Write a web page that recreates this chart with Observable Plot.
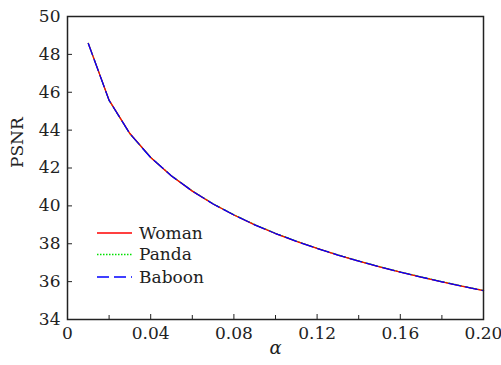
<!DOCTYPE html>
<html>
<head>
<meta charset="utf-8">
<script src="https://cdn.jsdelivr.net/npm/d3@7"></script>
<script src="https://cdn.jsdelivr.net/npm/@observablehq/plot@0.6"></script>
<style>
  html, body { margin: 0; padding: 0; background: #fff; }
  #wrap { position: relative; width: 501px; height: 365px; }
  #legend { position: absolute; left: 0; top: 0; pointer-events: none; }
</style>
</head>
<body>
<div id="wrap"></div>
<script>
// ---- data ----
const alpha  = [0.01,0.02,0.03,0.04,0.05,0.06,0.07,0.08,0.09,0.10,0.11,0.12,0.13,0.14,0.15,0.16,0.17,0.18,0.19,0.20];
const woman  = [48.58,45.58,43.82,42.56,41.58,40.78,40.10,39.52,39.00,38.54,38.13,37.75,37.40,37.08,36.78,36.50,36.24,35.99,35.75,35.52];
const panda  = [48.58,45.57,43.81,42.56,41.59,40.79,40.11,39.53,39.01,38.55,38.14,37.76,37.41,37.09,36.79,36.51,36.25,36.00,35.76,35.53];
const baboon = [48.57,45.57,43.81,42.55,41.58,40.78,40.10,39.52,39.00,38.54,38.13,37.75,37.40,37.08,36.78,36.50,36.24,35.99,35.75,35.52];
const seriesNames = ["Woman", "Panda", "Baboon"];
const xTicks = [0, 0.04, 0.08, 0.12, 0.16, 0.20];
const xTickLabels = ["0", "0.04", "0.08", "0.12", "0.16", "0.20"];
const xMinorTicks = [0.02, 0.06, 0.10, 0.14, 0.18];
const yTicks = [34, 36, 38, 40, 42, 44, 46, 48, 50];
const xLabel = "α";
const yLabel = "PSNR";

// ---- styles ----
const colors = ["#ff0000", "#00e000", "#0000ff"];
const dashes = [null, "1.5,1.5", "12,5"];
const FONT = "'DejaVu Serif', 'Liberation Serif', serif";
const FS = 17;

const seriesValues = [woman, panda, baboon];
const drawOrder = [1, 0, 2]; // panda underneath, woman, then baboon on top

const chart = Plot.plot({
  width: 501,
  height: 365,
  marginLeft: 67,
  marginRight: 18,
  marginTop: 16,
  marginBottom: 46,
  style: { fontFamily: FONT, fontSize: FS + "px", background: "#fff", color: "#222", overflow: "visible" },
  x: { domain: [0, 0.2] },
  y: { domain: [34, 50] },
  marks: [
    ...drawOrder.map(k =>
      Plot.line(seriesValues[k], {
        x: (d, i) => alpha[i],
        y: d => d,
        stroke: colors[k],
        strokeWidth: 1.3,
        strokeDasharray: dashes[k] || undefined
      })
    ),
    Plot.axisX(xTicks, {
      anchor: "bottom", tickSize: -5, tickPadding: 12,
      tickFormat: d => xTickLabels[xTicks.indexOf(d)],
      label: null, stroke: "#222", fill: "#222", fontSize: FS
    }),
    Plot.axisX(xMinorTicks, {
      anchor: "bottom", tickSize: -4, tickFormat: () => "", label: null, stroke: "#222"
    }),
    Plot.axisY(yTicks, {
      anchor: "left", tickSize: -5, tickPadding: 12,
      tickFormat: d => String(d),
      label: null, stroke: "#222", fill: "#222", fontSize: FS
    }),
    Plot.frame({ stroke: "#222", strokeWidth: 1.5 }),
    Plot.text([yLabel], { frameAnchor: "left", dx: -50, rotate: -90, fontSize: FS, fill: "#222" }),
    Plot.text([xLabel], { frameAnchor: "bottom", dy: 34, fontSize: 18, fontStyle: "italic", fill: "#222" })
  ]
});

const wrap = document.getElementById("wrap");
wrap.appendChild(chart);

// ---- legend overlay ----
const leg = d3.select(wrap).append("svg")
  .attr("id", "legend").attr("width", 501).attr("height", 365);
const rowY = [233, 254.5, 277];
seriesNames.forEach((name, k) => {
  const g = leg.append("g").attr("transform", `translate(0,${rowY[k]})`);
  g.append("line").attr("x1", 97).attr("x2", 132).attr("y1", 0).attr("y2", 0)
    .attr("stroke", colors[k]).attr("stroke-width", 1.3)
    .attr("stroke-dasharray", dashes[k]);
  g.append("text").attr("x", 139).attr("y", 0).attr("dy", "0.35em")
    .attr("font-family", FONT).attr("font-size", FS).attr("fill", "#222").text(name);
});
</script>
</body>
</html>
